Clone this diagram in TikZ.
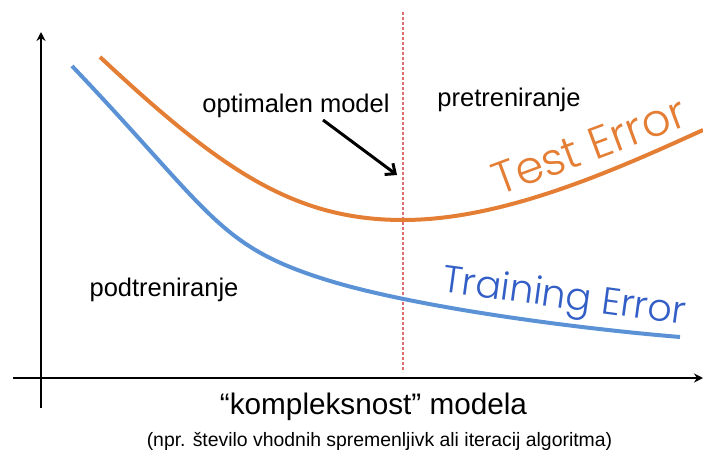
\documentclass[tikz,border=0pt]{standalone}
\usepackage{fontspec}
\setmainfont{Liberation Sans}
\newfontfamily\curvefont{Poppins}[UprightFont=* Light]
\usetikzlibrary{arrows.meta}
\newlength{\du}
\setlength{\du}{1pt}
\definecolor{testcolor}{rgb}{0.898039, 0.494118, 0.207843}
\definecolor{traincolor}{rgb}{0.356863, 0.572549, 0.839216}
\definecolor{trainlabel}{rgb}{0.196078, 0.368627, 0.776471}
\definecolor{optcolor}{rgb}{0.870588, 0.427451, 0.427451}
\tikzset{
  axisline/.style={line width=2.6\du, -{Stealth[length=9pt,width=9pt]}},
  errcurve/.style={line width=4\du, line cap=butt},
  regionlabel/.style={font=\fontsize{25.5}{28}\selectfont, anchor=base, inner sep=0pt},
  curvelabel/.style={font=\curvefont, inner sep=0pt}
}

\begin{document}
\begin{tikzpicture}
\pgftransformxscale{1.000000}
\pgftransformyscale{-1.000000}
\useasboundingbox (0\du,0\du) rectangle (703\du,450\du);
% axes
\coordinate (ybot) at (41\du,408\du);
\coordinate (ytop) at (41\du,32\du);
\coordinate (xleft) at (13\du,378\du);
\coordinate (xright) at (703\du,378\du);
\draw[axisline] (ybot)--(ytop);
\draw[axisline] (xleft)--(xright);
% optimal model
\coordinate (opttop) at (403\du,12\du);
\coordinate (optbot) at (403\du,372\du);
\draw[optcolor, line width=1.3\du, dash pattern=on 3pt off 2pt] (opttop)--(optbot);
% training error
\draw[errcurve, traincolor] (72\du,66\du) .. controls (212\du,213\du) and (217\du,246\du) .. (327\du,280\du)
  .. controls (407\du,305\du) and (560\du,327\du) .. (680\du,337\du);
% test error
\draw[errcurve, testcolor] (100\du,57\du) .. controls (220\du,169\du) and (293\du,220\du) .. (403\du,220\du)
  .. controls (503\du,220\du) and (613\du,171\du) .. (703\du,130\du);
% labels
\node[regionlabel] (optlabel) at (296\du,112\du) {optimalen model};
\node[regionlabel] (overfit) at (509\du,106\du) {pretreniranje};
\node[regionlabel] (underfit) at (164\du,296\du) {podtreniranje};
\node[curvelabel, text=testcolor, font=\curvefont\fontsize{45}{48}\selectfont, rotate=20.4] (testlabel) at (589\du,146\du) {Test Error};
\node[curvelabel, text=trainlabel, font=\curvefont\fontsize{38}{40}\selectfont, rotate=-7.7] (trainlabel) at (564\du,299\du) {Training Error};
\node[anchor=base, inner sep=0pt, font=\fontsize{29.7}{33}\selectfont] (xtitle) at (373.5\du,414\du) {“kompleksnost” modela};
\node[anchor=base, inner sep=0pt, font=\fontsize{19.4}{22}\selectfont] (xsub) at (379.5\du,446\du) {(npr. število vhodnih spremenljivk ali iteracij algoritma)};
% arrow to optimum
\coordinate (arrstart) at (323\du,120\du);
\coordinate (arrend) at (397\du,175\du);
\draw[line width=3\du, -{Straight Barb[length=8pt,width=14pt]}] (arrstart)--(arrend);
\end{tikzpicture}
\end{document}
